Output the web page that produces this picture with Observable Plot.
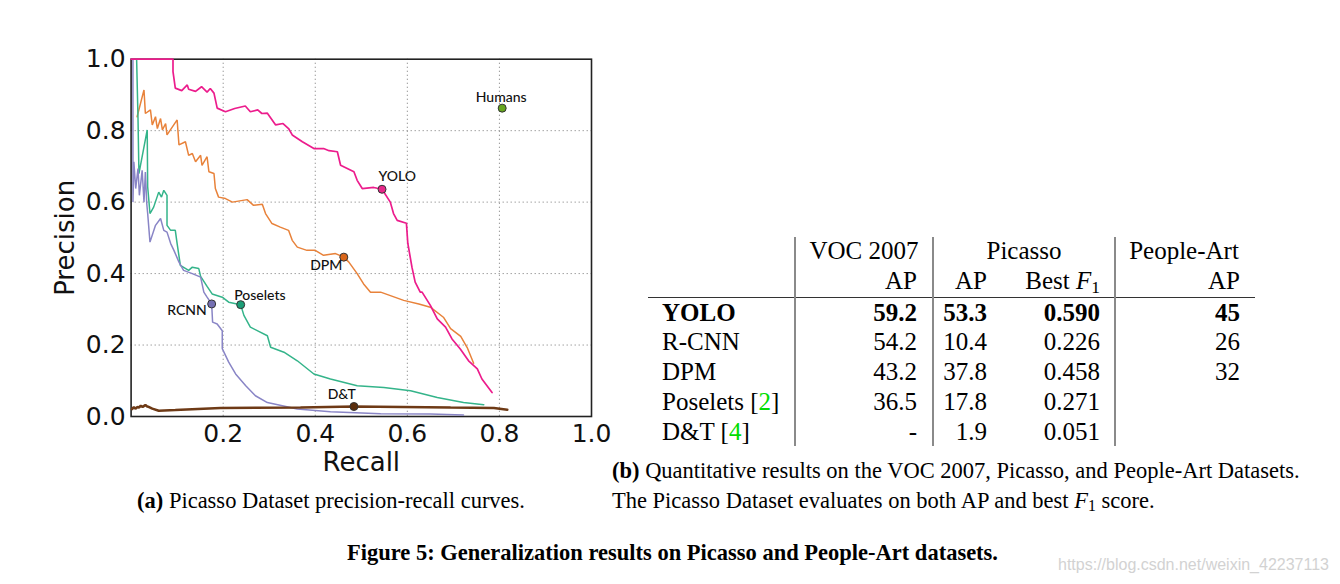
<!DOCTYPE html>
<html><head><meta charset="utf-8">
<script src="https://cdn.jsdelivr.net/npm/d3@7"></script>
<script src="https://cdn.jsdelivr.net/npm/@observablehq/plot@0.6"></script>
<style>
html,body{margin:0;padding:0;background:#fff;}
#page{position:relative;width:1340px;height:584px;overflow:hidden;background:#fff;}
#chart{position:absolute;left:0;top:0;}
.t{position:absolute;white-space:nowrap;line-height:1;font-family:"Liberation Serif","Times New Roman",serif;color:#000;}
.cap{font-size:22.5px;}
.tab{font-size:25px;}
.rule{position:absolute;}
.cite{color:#00dd00;}
.sub{font-size:0.7em;position:relative;top:0.22em;}
</style></head><body><div id="page"><div id="chart"></div></div>
<script>
// ---------- chart data (recall, precision) ----------
const yoloPR = [[0.000,1.000],[0.091,1.000],[0.091,0.965],[0.096,0.919],[0.110,0.912],[0.122,0.928],[0.125,0.916],[0.140,0.910],[0.153,0.923],[0.165,0.908],[0.172,0.918],[0.180,0.905],[0.187,0.863],[0.205,0.853],[0.225,0.862],[0.248,0.869],[0.259,0.853],[0.275,0.858],[0.284,0.848],[0.296,0.849],[0.314,0.816],[0.330,0.820],[0.342,0.806],[0.350,0.788],[0.372,0.769],[0.397,0.750],[0.418,0.750],[0.430,0.744],[0.448,0.741],[0.455,0.703],[0.484,0.685],[0.491,0.661],[0.502,0.638],[0.527,0.641],[0.545,0.636],[0.563,0.600],[0.570,0.568],[0.578,0.549],[0.598,0.541],[0.601,0.485],[0.610,0.418],[0.617,0.376],[0.628,0.348],[0.632,0.348],[0.650,0.311],[0.665,0.273],[0.683,0.250],[0.697,0.217],[0.715,0.189],[0.733,0.156],[0.752,0.133],[0.762,0.105],[0.784,0.067]];
const dpmPR = [[0.013,0.839],[0.028,0.914],[0.031,0.848],[0.042,0.858],[0.046,0.816],[0.053,0.839],[0.057,0.806],[0.064,0.834],[0.068,0.802],[0.075,0.820],[0.078,0.788],[0.100,0.830],[0.104,0.760],[0.118,0.769],[0.125,0.731],[0.133,0.736],[0.140,0.713],[0.151,0.731],[0.154,0.703],[0.165,0.727],[0.169,0.685],[0.180,0.680],[0.183,0.638],[0.190,0.614],[0.205,0.610],[0.220,0.600],[0.252,0.607],[0.266,0.591],[0.285,0.594],[0.292,0.568],[0.306,0.540],[0.324,0.530],[0.342,0.521],[0.350,0.493],[0.361,0.474],[0.382,0.465],[0.400,0.465],[0.418,0.451],[0.444,0.456],[0.462,0.446],[0.473,0.432],[0.491,0.400],[0.505,0.371],[0.520,0.348],[0.542,0.348],[0.592,0.325],[0.625,0.315],[0.650,0.306],[0.679,0.277],[0.694,0.246],[0.716,0.224],[0.730,0.193],[0.744,0.149]];
const poseletsPR = [[0.012,1.000],[0.015,0.834],[0.017,0.680],[0.035,0.802],[0.036,0.643],[0.041,0.568],[0.049,0.586],[0.060,0.628],[0.066,0.614],[0.071,0.633],[0.078,0.619],[0.078,0.535],[0.086,0.521],[0.096,0.521],[0.100,0.484],[0.107,0.423],[0.125,0.409],[0.133,0.418],[0.147,0.414],[0.151,0.392],[0.165,0.364],[0.176,0.343],[0.198,0.334],[0.212,0.320],[0.238,0.313],[0.245,0.283],[0.259,0.250],[0.296,0.226],[0.303,0.194],[0.332,0.180],[0.361,0.156],[0.397,0.119],[0.433,0.105],[0.491,0.086],[0.549,0.081],[0.607,0.072],[0.665,0.053],[0.722,0.039],[0.766,0.033]];
const rcnnPR = [[0.004,1.000],[0.004,0.600],[0.006,0.713],[0.010,0.638],[0.015,0.694],[0.018,0.619],[0.024,0.689],[0.028,0.600],[0.031,0.684],[0.034,0.596],[0.036,0.568],[0.041,0.488],[0.053,0.535],[0.064,0.554],[0.071,0.521],[0.078,0.516],[0.086,0.484],[0.093,0.465],[0.104,0.432],[0.114,0.409],[0.133,0.400],[0.151,0.390],[0.158,0.348],[0.165,0.334],[0.175,0.315],[0.177,0.264],[0.187,0.259],[0.198,0.240],[0.198,0.190],[0.212,0.152],[0.227,0.119],[0.249,0.086],[0.270,0.058],[0.296,0.039],[0.361,0.021],[0.433,0.013],[0.542,0.008],[0.650,0.007],[0.722,0.004]];
const dtPR = [[0.002,0.021],[0.006,0.026],[0.010,0.022],[0.014,0.027],[0.017,0.025],[0.021,0.030],[0.025,0.027],[0.031,0.032],[0.035,0.028],[0.038,0.027],[0.046,0.022],[0.060,0.016],[0.096,0.018],[0.194,0.024],[0.368,0.025],[0.484,0.028],[0.694,0.025],[0.788,0.024],[0.817,0.019]];

const markerNames = ["Humans","YOLO","DPM","Poselets","RCNN","D&T"];
const markerRecall = [0.806,0.545,0.462,0.238,0.175,0.484];
const markerPrecision = [0.863,0.636,0.446,0.313,0.315,0.028];

const xTicks = [0.2,0.4,0.6,0.8,1.0];
const yTicks = [0.0,0.2,0.4,0.6,0.8,1.0];
const gridTicks = [0.2,0.4,0.6,0.8];
const axisLabels = {x: "Recall", y: "Precision"};

// ---------- table data ----------
const methods = ["YOLO","R-CNN","DPM","Poselets","D&T"];
const methodRefs = ["","","","2","4"];
const vocAP = ["59.2","54.2","43.2","36.5","-"];
const picassoAP = ["53.3","10.4","37.8","17.8","1.9"];
const picassoF1 = ["0.590","0.226","0.458","0.271","0.051"];
const peopleArtAP = ["45","26","32","",""];
const headerTop = ["VOC 2007","Picasso","People-Art"];
const headerSub = ["AP","AP","Best F1","AP"];

// ---------- styles ----------
const lineStyle = {
  YOLO: {stroke:"#ec1c8c", width:1.7},
  DPM: {stroke:"#e8823a", width:1.5},
  Poselets: {stroke:"#34b48a", width:1.5},
  RCNN: {stroke:"#8985c6", width:1.5},
  "D&T": {stroke:"#6e3a16", width:2.6}
};
const markerFill = {Humans:"#66a61e", YOLO:"#e7298a", DPM:"#d9661a", Poselets:"#1b9e77", RCNN:"#7570b3", "D&T":"#5a2d0c"};
const labelStyle = {
  Humans:{anchor:"middle", dx:-1, dy:-11},
  YOLO:{anchor:"start", dx:-3.5, dy:-13},
  DPM:{anchor:"end", dx:-1.5, dy:8.5},
  Poselets:{anchor:"start", dx:-6.5, dy:-9.5},
  RCNN:{anchor:"end", dx:-5, dy:7},
  "D&T":{anchor:"end", dx:2, dy:-11.5}
};

const curves = [["DPM",dpmPR],["Poselets",poseletsPR],["RCNN",rcnnPR],["D&T",dtPR],["YOLO",yoloPR]];

const marks = [
  Plot.gridX({ticks: gridTicks, stroke:"#8c8c8c", strokeOpacity:1, strokeDasharray:"1.2,2.8", strokeWidth:1}),
  Plot.gridY({ticks: gridTicks, stroke:"#8c8c8c", strokeOpacity:1, strokeDasharray:"1.2,2.8", strokeWidth:1}),
  Plot.frame({stroke:"#222", strokeWidth:1.6}),
  ...curves.map(([name, pts]) => Plot.line(pts, {x: d => d[0], y: d => d[1], stroke: lineStyle[name].stroke, strokeWidth: lineStyle[name].width, strokeLinejoin:"miter"})),
  Plot.dot(markerNames.map((n,i)=>i), {x: i => markerRecall[i], y: i => markerPrecision[i], r: 4, fill: i => markerFill[markerNames[i]], stroke:"#333", strokeWidth:1}),
  ...markerNames.map((n,i) => Plot.text([i], {x: j => markerRecall[j], y: j => markerPrecision[j], text: j => markerNames[j], textAnchor: labelStyle[n].anchor, dx: labelStyle[n].dx, dy: labelStyle[n].dy, fontFamily:"Lato, 'Open Sans', sans-serif", fontSize:14, fontWeight:500, fill:"#111"})),
  Plot.axisX({ticks: xTicks, tickSize:0, tickPadding:8, tickFormat: d3.format(".1f"), label:null, fontSize:25, fill:"#111"}),
  Plot.axisY({ticks: yTicks, tickSize:0, tickPadding:5.5, tickFormat: d3.format(".1f"), label:null, fontSize:25, fill:"#111"}),
  Plot.text([axisLabels.x], {frameAnchor:"bottom", dy:46, lineAnchor:"middle", textAnchor:"middle", text: d=>d, fontSize:26, fill:"#111"}),
  Plot.text([axisLabels.y], {frameAnchor:"left", dx:-65.6, rotate:-90, lineAnchor:"middle", textAnchor:"middle", text: d=>d, fontSize:26, fill:"#111"})
];

const chart = Plot.plot({
  width: 620, height: 490,
  marginLeft: 130.6, marginRight: 29, marginTop: 58.7, marginBottom: 74,
  x: {domain:[0,1]}, y: {domain:[0,1]},
  style: {fontFamily:"'DejaVu Sans', sans-serif", fontSize:"25px", background:"white", color:"#111"},
  marks
});
document.getElementById("chart").appendChild(chart);

// ---------- table & captions ----------
const page = document.getElementById("page");
function place(html, x, y, align, cls, extra) {
  const d = document.createElement("div");
  d.className = "t " + cls;
  d.innerHTML = html;
  d.style.left = x + "px";
  d.style.top = y + "px";
  const tx = align === "right" ? "-100%" : align === "center" ? "-50%" : "0";
  d.style.transform = `translate(${tx},-50%)`;
  if (extra) Object.assign(d.style, extra);
  page.appendChild(d);
  return d;
}
function esc(s){ return s.replace(/&/g,"&amp;"); }
function rule(x, y, w, h, color) {
  const d = document.createElement("div");
  d.className = "rule";
  Object.assign(d.style, {left:x+"px", top:y+"px", width:w+"px", height:h+"px", background:color});
  page.appendChild(d);
}

const hdrCenters = [864, 1024, 1184];
const colRight = [917, 987, 1100, 1240];
const rowLeft = 662;
const rowY = [311.5, 341, 370.5, 400.5, 430.5];

headerTop.forEach((h,i) => place(esc(h), hdrCenters[i], 250, "center", "tab"));
headerSub.forEach((h,i) => {
  const html = h === "Best F1" ? 'Best <i>F</i><span class="sub">1</span>' : esc(h);
  place(html, colRight[i], 280, "right", "tab");
});
methods.forEach((m,r) => {
  const bold = r === 0 ? {fontWeight:"bold"} : null;
  const label = esc(m) + (methodRefs[r] ? ' [<span class="cite">' + methodRefs[r] + '</span>]' : "");
  place(label, rowLeft, rowY[r], "left", "tab", bold);
  [vocAP[r], picassoAP[r], picassoF1[r], peopleArtAP[r]].forEach((v,c) => {
    if (v !== "") place(esc(v), colRight[c], rowY[r], "right", "tab", bold);
  });
});
rule(648, 296.5, 607, 1.2, "#333");
[795, 933, 1115].forEach(x => rule(x - 0.75, 237, 1.5, 209, "#8a8a8a"));

place('<b>(a)</b> Picasso Dataset precision-recall curves.', 331, 501, "center", "cap");
place('<b>(b)</b> Quantitative results on the VOC 2007, Picasso, and People-Art Datasets.', 612, 471, "left", "cap");
place('The Picasso Dataset evaluates on both AP and best <i>F</i><span class="sub">1</span> score.', 612, 501, "left", "cap");
place('<b>Figure 5: Generalization results on Picasso and People-Art datasets.</b>', 672.5, 553, "center", "cap");
place('https://blog.csdn.net/weixin_42237113', 1058, 565, "left", "", {fontFamily:"'Liberation Sans', Arial, sans-serif", fontSize:"16px", color:"#d2d2d2"});
</script>
</body></html>
